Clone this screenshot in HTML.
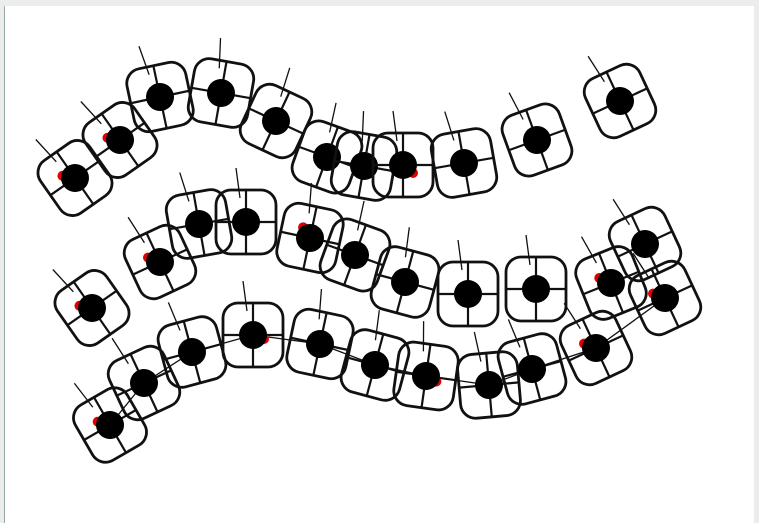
<!DOCTYPE html>
<html><head><meta charset="utf-8"><style>
html,body{margin:0;padding:0;width:759px;height:523px;overflow:hidden;background:#ececec;font-family:"Liberation Sans",sans-serif}
#panel{position:absolute;left:4px;top:6px;width:749px;height:517px;background:#fff;border-left:1px solid #9aa;}
svg{position:absolute;left:0;top:0}
</style></head><body>
<div id="panel"></div>
<svg id="chart" width="759" height="523"></svg>
<script>
// Row 1 glyphs
const row1X=[75,120,160,221,276,327,364,403,464,537,620];
const row1Y=[178,140,97,93,121,157,166,165,163,140,101];
const row1Rot=[-35,-35,-12,10,25,20,10,0,-10,-20,-25];
const row1Red=[1,1,0,0,0,0,0,2,0,0,0];
// Row 2 glyphs
const row2X=[92,160,199,246,310,355,405,468,536,611,645,665];
const row2Y=[308,262,224,222,238,255,282,294,289,283,244,298];
const row2Rot=[-35,-25,-10,0,12,20,15,0,0,-22,-25,-25];
const row2Red=[1,1,0,0,1,0,0,0,0,1,0,1];
// Row 3 glyphs
const row3X=[110,144,192,253,320,375,426,489,532,596];
const row3Y=[425,383,352,335,344,365,376,385,369,348];
const row3Rot=[-30,-25,-15,0,12,15,8,-5,-15,-25];
const row3Red=[1,0,0,3,0,0,3,0,0,1];
const NS="http://www.w3.org/2000/svg";
const svg=document.getElementById('chart');
function mk(t,a,p){const e=document.createElementNS(NS,t);for(const k in a)e.setAttribute(k,a[k]);(p||svg).appendChild(e);return e;}
const lineG=mk('g',{});


let pts=row3X.map((x,i)=>x+','+row3Y[i]).join(' ')+' '+row2X[11]+','+row2Y[11];
mk('polyline',{points:pts,fill:'none',stroke:'#111','stroke-width':1.3},lineG);
const redPos={1:[-9,-9],2:[10,8],3:[11,4]};
function glyph(x,y,r,red,name){
  const g=mk('g',{transform:`translate(${x},${y}) rotate(${r})`});
  
  
  mk('line',{x1:-6,y1:-24,x2:-10,y2:-54,stroke:'#111','stroke-width':1.3},g);
  mk('rect',{x:-30,y:-32,width:60,height:64,rx:15,ry:15,fill:'none',stroke:'#111','stroke-width':2.8},g);
  mk('line',{x1:-30,y1:0,x2:30,y2:0,stroke:'#111','stroke-width':2.2},g);
  mk('line',{x1:0,y1:-32,x2:0,y2:32,stroke:'#111','stroke-width':2.2},g);
  if(red){const p=redPos[red];mk('circle',{cx:p[0],cy:p[1],r:5,fill:'#e00000'},g);}
  mk('circle',{cx:0,cy:0,r:14,fill:'#000'},g);
}
row1X.forEach((x,i)=>glyph(x,row1Y[i],row1Rot[i],row1Red[i],'row1-glyph'));
row2X.forEach((x,i)=>glyph(x,row2Y[i],row2Rot[i],row2Red[i],'row2-glyph'));
row3X.forEach((x,i)=>glyph(x,row3Y[i],row3Rot[i],row3Red[i],'row3-glyph'));
</script>
</body></html>
